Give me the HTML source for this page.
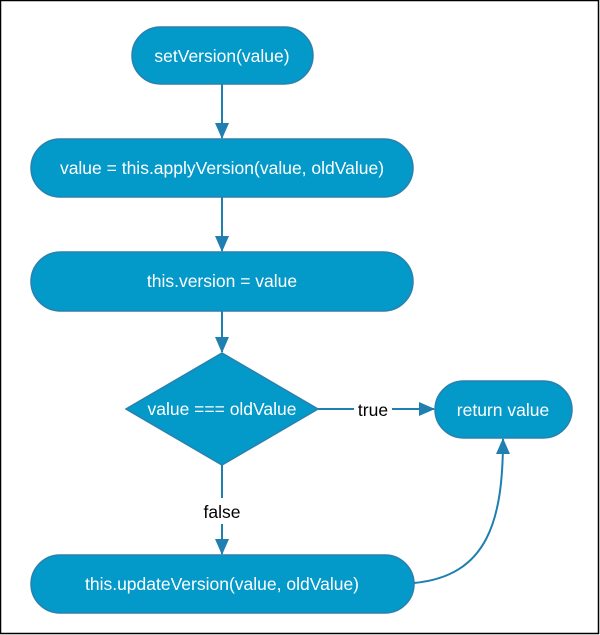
<!DOCTYPE html>
<html><head><meta charset="utf-8"><style>
html,body{margin:0;padding:0;background:#fff}
svg{display:block}
text{font-family:"Liberation Sans",sans-serif;font-size:17.5px}
</style></head><body>
<svg width="600" height="635" viewBox="0 0 600 635">
<rect x="0.5" y="0.5" width="598" height="633" fill="#fff" stroke="#000" stroke-width="1.5"/>
<defs><marker id="a" markerWidth="16" markerHeight="14" refX="15" refY="7" orient="auto" markerUnits="userSpaceOnUse"><path d="M0,0 L16,7 L0,14 Z" fill="#1f7fb0"/></marker></defs>
<g fill="#0399c9" stroke="#2a80ae" stroke-width="1.5">
<rect x="132" y="27" width="181" height="57" rx="28.5"/>
<rect x="31" y="139" width="382" height="58" rx="29"/>
<rect x="31" y="252" width="382" height="59" rx="29.5"/>
<polygon points="222,353 318,409 222,465 126,409"/>
<rect x="435" y="381" width="137" height="57" rx="28.5"/>
<rect x="31" y="555" width="383" height="58" rx="29"/>
</g>
<g stroke="#1f7fb0" stroke-width="2" fill="none">
<line x1="222" y1="84" x2="222" y2="138" marker-end="url(#a)"/>
<line x1="222" y1="197" x2="222" y2="251" marker-end="url(#a)"/>
<line x1="222" y1="311" x2="222" y2="352" marker-end="url(#a)"/>
<line x1="318" y1="409" x2="354" y2="409"/>
<line x1="392" y1="409" x2="434" y2="409" marker-end="url(#a)"/>
<line x1="222" y1="465" x2="222" y2="498"/>
<line x1="222" y1="524" x2="222" y2="554" marker-end="url(#a)"/>
<path d="M414,583 C488,576 503,520 503,439" marker-end="url(#a)"/>
</g>
<g fill="#fff" text-anchor="middle">
<text x="222" y="62">setVersion(value)</text>
<text x="222" y="174">value = this.applyVersion(value, oldValue)</text>
<text x="222" y="287">this.version = value</text>
<text x="222" y="415">value === oldValue</text>
<text x="503" y="416">return value</text>
<text x="222" y="590">this.updateVersion(value, oldValue)</text>
</g>
<g fill="#000" text-anchor="middle">
<text x="373" y="416">true</text>
<text x="222" y="518">false</text>
</g>
</svg>
</body></html>
